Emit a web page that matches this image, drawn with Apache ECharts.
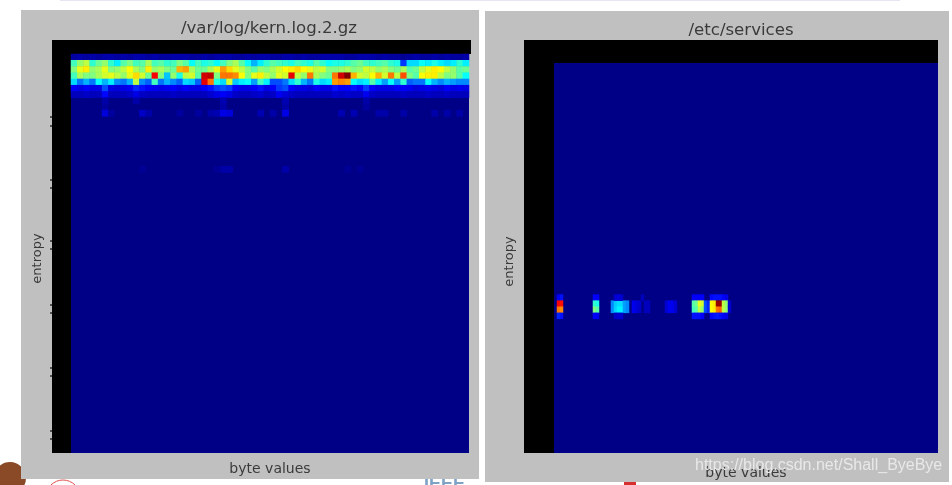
<!DOCTYPE html>
<html>
<head>
<meta charset="utf-8">
<style>
html,body{margin:0;padding:0;background:#fff;overflow:hidden}
#chart{width:952px;height:485px;filter:blur(0.75px)}
</style>
<script src="https://cdn.jsdelivr.net/npm/echarts@6/dist/echarts.min.js"></script>
</head>
<body>
<div id="chart"></div>
<script>
// /var/log/kern.log.2.gz : entropy rows (top down), 64 byte-value columns, colour 0-100
const kernRow0 = [3,4,3,4,3,4,4,3,4,3,4,4,3,4,3,3,4,4,4,3,3,4,3,4,4,4,3,3,4,3,4,4,3,3,4,4,3,4,3,3,4,4,4,4,3,3,4,4,4,3,4,3,3,2,3,4,3,3,4,3,4,3,3,4];
const kernRow1 = [44,52,56,42,48,52,42,36,46,50,44,46,54,44,46,42,44,50,46,38,44,40,42,38,44,50,54,46,38,30,36,42,46,44,42,40,44,42,40,46,42,38,40,40,42,46,48,44,42,44,46,42,40,18,34,34,38,36,40,36,34,36,42,36];
const kernRow2 = [50,60,64,52,54,60,50,52,56,62,54,50,64,52,54,50,48,70,72,54,48,48,54,60,72,66,60,56,50,46,52,50,54,58,62,64,66,62,60,56,58,50,50,52,54,50,52,58,56,52,54,50,48,54,46,48,56,60,64,62,56,52,46,48];
const kernRow3 = [44,54,50,50,54,58,60,56,52,60,66,58,48,88,50,32,52,40,56,58,46,92,94,50,76,76,74,62,50,60,64,56,52,60,58,90,56,52,76,54,50,48,76,92,100,70,58,56,62,70,58,76,56,80,50,46,62,64,64,56,50,52,46,38];
const kernRow4 = [34,24,30,24,38,30,36,26,24,30,56,26,22,44,24,30,26,22,34,32,22,90,76,40,34,58,32,36,38,28,44,36,20,20,24,34,42,30,24,40,34,36,72,74,72,38,34,36,46,36,28,38,28,42,22,24,24,38,30,26,30,28,26,26];
const kernRow5 = [12,10,12,10,10,20,10,9,10,11,16,14,12,11,10,11,12,10,12,10,10,12,14,18,20,18,12,10,10,12,14,10,12,18,20,12,10,10,9,12,10,10,14,12,12,14,12,18,12,10,10,10,12,12,11,9,10,11,10,9,12,10,11,10];
const kernRow6 = [6,6,7,6,6,13,6,6,6,7,10,7,6,6,6,6,7,6,6,6,6,6,8,10,12,10,7,6,6,7,8,6,7,11,9,7,6,6,6,6,6,6,8,7,8,7,7,11,7,6,6,6,6,7,6,6,6,7,6,6,7,6,6,6];
const kernFaint = [[5,7,4],[10,7,4],[24,7,5],[34,7,5],[47,7,4],[5,8,3],[24,8,4],[34,8,4],[47,8,3],[5,9,9],[6,9,3],[11,9,7],[12,9,4],[17,9,3],[20,9,3],[22,9,4],[23,9,5],[24,9,10],[25,9,9],[30,9,5],[32,9,4],[34,9,10],[43,9,5],[45,9,5],[49,9,4],[50,9,4],[53,9,4],[58,9,4],[60,9,4],[62,9,4],[24,18,4],[25,18,4],[34,18,4],[23,18,2],[44,18,2],[46,18,2],[11,18,2]];
// /etc/services : sparse [byte bin, entropy row, colour], finer bins
const servicesCells = [
 [1,38,12],[2,38,14],[1,39,88],[2,39,86],[1,40,76],[2,40,74],[1,41,16],[2,41,14],
 [13,38,12],[14,38,12],[13,39,42],[14,39,40],[13,40,50],[14,40,46],[13,41,12],[14,41,11],
 [19,39,26],[20,39,32],[21,39,34],[22,39,34],[23,39,28],[24,39,26],[19,40,26],[20,40,33],[21,40,36],[22,40,36],[23,40,28],[24,40,26],
 [20,38,8],[21,38,9],[22,38,8],[20,41,7],[21,41,8],[22,41,8],
 [26,39,11],[27,39,9],[28,39,8],[29,38,6],[26,40,11],[27,40,9],[28,40,7],[30,39,6],[31,39,6],[30,40,6],[31,40,6],
 [37,39,8],[38,39,11],[39,39,11],[40,39,8],[37,40,8],[38,40,11],[39,40,11],[40,40,8],
 [46,38,12],[47,38,12],[48,38,12],[49,38,12],[46,39,46],[47,39,48],[48,39,60],[49,39,58],[50,39,20],[51,39,16],[46,40,44],[47,40,46],[48,40,56],[49,40,52],[50,40,20],[51,40,16],[46,41,14],[47,41,14],[48,41,14],[49,41,12],
 [52,38,13],[53,38,14],[54,38,14],[55,38,14],[56,38,12],[57,38,10],
 [52,39,62],[53,39,64],[54,39,98],[55,39,98],[56,39,56],[57,39,52],[52,40,62],[53,40,64],[54,40,76],[55,40,78],[56,40,56],[57,40,52],
 [52,41,13],[53,41,14],[54,41,15],[55,41,14],[56,41,12],[57,41,10],[58,39,8],[58,40,8]
];
const jetStops = ['#000080','#0000ff','#0080ff','#00ffff','#80ff80','#ffff00','#ff8000','#ff0000','#800000'];
const titles = ['/var/log/kern.log.2.gz','/etc/services'];
const axisNames = ['byte values','entropy'];
const watermark = 'https://blog.csdn.net/Shall_ByeBye';

const kernRows = [kernRow0,kernRow1,kernRow2,kernRow3,kernRow4,kernRow5,kernRow6];
const rowLabels = Array.from({length:64},(_,i)=>String(i));
const kernCols = rowLabels;
const serviceCols = Array.from({length:128},(_,i)=>String(i));

// Only cells that differ from the navy plot background are drawn.
const kernData = [];
kernRows.forEach((row,r)=>row.forEach((v,c)=>kernData.push([c,63-r,v])));
kernFaint.forEach(f=>kernData.push([f[0],63-f[1],f[2]]));
const svcData = servicesCells.map(f=>[f[0],63-f[1],f[2]]);

const ink='#3a3a3a';
const makeX=(i,d,gap)=>({type:'category',gridIndex:i,data:d,name:axisNames[0],nameLocation:'middle',nameGap:gap,
  nameTextStyle:{fontFamily:'DejaVu Sans',fontSize:14,color:ink},
  axisLine:{show:false},axisTick:{show:false},axisLabel:{show:false},splitLine:{show:false}});
const makeY=(i,gap,pad)=>({type:'category',gridIndex:i,data:rowLabels,name:axisNames[1],nameLocation:'middle',nameGap:gap,nameRotate:90,
  nameTextStyle:{fontFamily:'DejaVu Sans',fontSize:13,color:ink,padding:[0,pad,0,0]},
  axisLine:{show:false},axisTick:{show:false},axisLabel:{show:false},splitLine:{show:false}});
const box=(x,y,w,h,fill,z)=>({type:'rect',shape:{x,y,width:w,height:h},style:{fill},z:z,silent:true});

const chart = echarts.init(document.getElementById('chart'),null,{renderer:'canvas'});
chart.setOption({
  animation:false,
  backgroundColor:'#ffffff',
  title:[
    {text:titles[0],left:269,top:20,padding:0,textAlign:'center',textStyle:{fontFamily:'DejaVu Sans',fontSize:16.6,fontWeight:'normal',color:ink}},
    {text:titles[1],left:741,top:22,padding:0,textAlign:'center',textStyle:{fontFamily:'DejaVu Sans',fontSize:16.6,fontWeight:'normal',color:ink}}
  ],
  grid:[
    {left:71,top:54,width:398,height:399,show:true,backgroundColor:'#000086',borderWidth:0},
    {left:554,top:63,width:384,height:390,show:true,backgroundColor:'#000086',borderWidth:0}
  ],
  xAxis:[makeX(0,kernCols,9),makeX(1,serviceCols,13)],
  yAxis:[makeY(0,27,10),makeY(1,38,7)],
  visualMap:{show:false,min:0,max:100,dimension:2,seriesIndex:[0,1],inRange:{color:jetStops}},
  series:[
    {type:'heatmap',xAxisIndex:0,yAxisIndex:0,data:kernData,progressive:0,itemStyle:{borderWidth:0},emphasis:{disabled:true},z:5},
    {type:'heatmap',xAxisIndex:1,yAxisIndex:1,data:svcData,progressive:0,itemStyle:{borderWidth:0},emphasis:{disabled:true},z:5}
  ],
  graphic:[
    box(60,0,840,1,'#e6e6f2',-10),
    box(21,10,458,469,'#c0c0c0',-9),
    box(485,11,464,471,'#c0c0c0',-9),
    box(52,40,419,14,'#000000',-8),
    box(52,54,19,399,'#000000',-8),
    box(524,40,414,23,'#000000',-8),
    box(524,63,30,390,'#000000',-8),
    box(50,116,2,2,'#555555',-8), box(50,125,2,2,'#555555',-8),
    box(50,179,2,2,'#555555',-8), box(50,187,2,2,'#555555',-8),
    box(50,240,2,2,'#555555',-8), box(50,248,2,2,'#555555',-8),
    box(50,304,2,2,'#555555',-8), box(50,312,2,2,'#555555',-8),
    box(50,367,2,2,'#555555',-8), box(50,375,2,2,'#555555',-8),
    box(50,430,2,2,'#555555',-8), box(50,438,2,2,'#555555',-8),
    {type:'circle',shape:{cx:10,cy:478,r:16},style:{fill:'#8a4a28'},z:-10,silent:true},
    {type:'circle',shape:{cx:63,cy:497,r:17},style:{fill:'none',stroke:'#e05050',lineWidth:1},z:-10,silent:true},
    {type:'text',style:{x:424,y:475,text:'IEEE',fontFamily:'Liberation Sans',fontSize:18,fontWeight:'bold',fill:'#7fa3c7'},z:-10,silent:true},
    box(624,482,12,3,'#d83030',-10),
    {type:'text',style:{x:695,y:458,text:watermark,fontFamily:'Liberation Sans',fontSize:16,fill:'#e8e8e8'},z:100,silent:true}
  ]
});
</script>
</body>
</html>
